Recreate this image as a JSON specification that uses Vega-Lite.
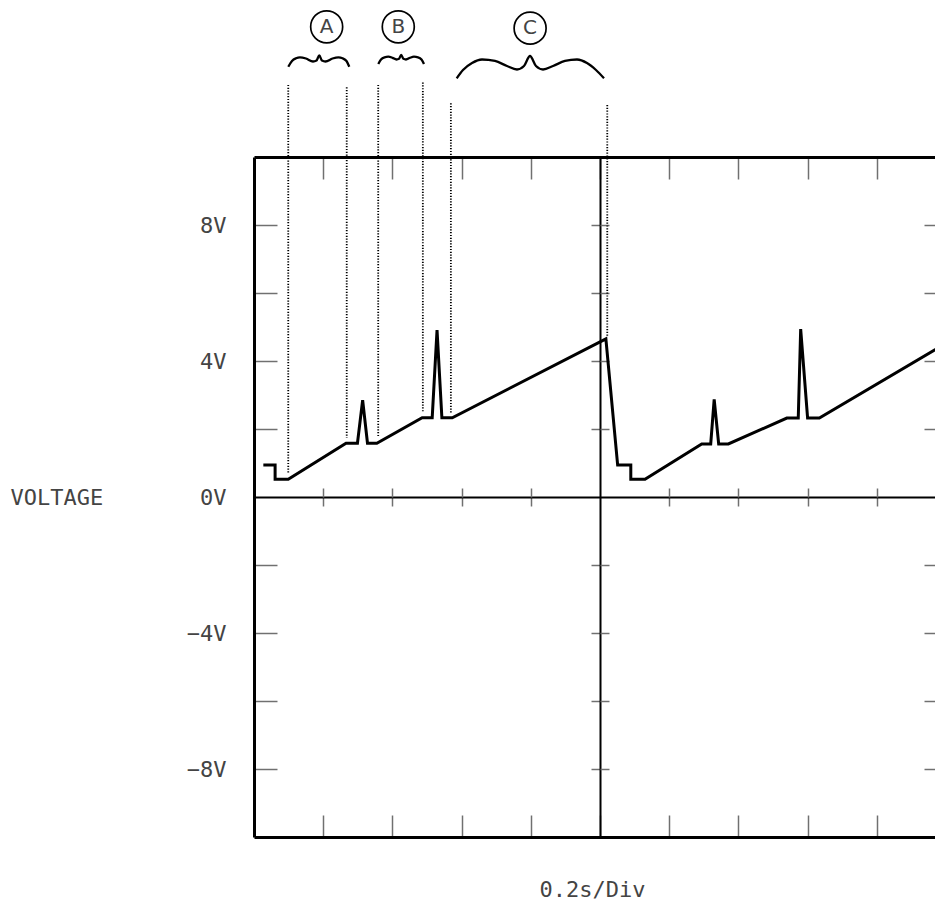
{
  "$schema": "https://vega.github.io/schema/vega-lite/v6.json",
  "width": 692,
  "height": 680,
  "autosize": {"type": "none"},
  "padding": {"left": 254, "top": 157, "right": -11, "bottom": 64},
  "background": "white",
  "config": {
    "view": {"stroke": null},
    "axis": {"grid": false, "labelFont": "DejaVu Sans Mono", "titleFont": "DejaVu Sans Mono", "labelColor": "#444", "titleColor": "#444", "titleFontWeight": "normal"}
  },
  "datasets": {
    "trace": [
      {"i": 0, "t": 0.027, "v": 0.94},
      {"i": 1, "t": 0.061, "v": 0.94},
      {"i": 2, "t": 0.061, "v": 0.52},
      {"i": 3, "t": 0.099, "v": 0.52},
      {"i": 4, "t": 0.266, "v": 1.58},
      {"i": 5, "t": 0.299, "v": 1.58},
      {"i": 6, "t": 0.314, "v": 2.85},
      {"i": 7, "t": 0.328, "v": 1.58},
      {"i": 8, "t": 0.355, "v": 1.58},
      {"i": 9, "t": 0.486, "v": 2.33},
      {"i": 10, "t": 0.515, "v": 2.33},
      {"i": 11, "t": 0.529, "v": 4.91},
      {"i": 12, "t": 0.543, "v": 2.33},
      {"i": 13, "t": 0.573, "v": 2.33},
      {"i": 14, "t": 1.017, "v": 4.65},
      {"i": 15, "t": 1.051, "v": 0.94},
      {"i": 16, "t": 1.089, "v": 0.94},
      {"i": 17, "t": 1.089, "v": 0.52},
      {"i": 18, "t": 1.130, "v": 0.52},
      {"i": 19, "t": 1.294, "v": 1.56},
      {"i": 20, "t": 1.320, "v": 1.56},
      {"i": 21, "t": 1.330, "v": 2.87},
      {"i": 22, "t": 1.343, "v": 1.56},
      {"i": 23, "t": 1.371, "v": 1.56},
      {"i": 24, "t": 1.540, "v": 2.32},
      {"i": 25, "t": 1.573, "v": 2.32},
      {"i": 26, "t": 1.580, "v": 4.94},
      {"i": 27, "t": 1.600, "v": 2.32},
      {"i": 28, "t": 1.634, "v": 2.32},
      {"i": 29, "t": 2.0, "v": 4.52}
    ],
    "dots": [
      {"t": 0.099, "top": 12.12, "bottom": 0.7},
      {"t": 0.268, "top": 12.05, "bottom": 1.74},
      {"t": 0.359, "top": 12.12, "bottom": 1.74},
      {"t": 0.488, "top": 12.19, "bottom": 2.47},
      {"t": 0.569, "top": 11.58, "bottom": 2.47},
      {"t": 1.021, "top": 11.53, "bottom": 4.71}
    ],
    "braces": [
      {"brace": "A", "t": 0.0991, "v": 12.656},
      {"brace": "A", "t": 0.1098, "v": 12.824},
      {"brace": "A", "t": 0.1214, "v": 12.903},
      {"brace": "A", "t": 0.1329, "v": 12.932},
      {"brace": "A", "t": 0.1503, "v": 12.897},
      {"brace": "A", "t": 0.1705, "v": 12.809},
      {"brace": "A", "t": 0.1806, "v": 12.838},
      {"brace": "A", "t": 0.1887, "v": 12.985},
      {"brace": "A", "t": 0.1965, "v": 12.838},
      {"brace": "A", "t": 0.2066, "v": 12.809},
      {"brace": "A", "t": 0.2269, "v": 12.897},
      {"brace": "A", "t": 0.2442, "v": 12.932},
      {"brace": "A", "t": 0.2558, "v": 12.903},
      {"brace": "A", "t": 0.2673, "v": 12.824},
      {"brace": "A", "t": 0.2754, "v": 12.656},
      {"brace": "B", "t": 0.3592, "v": 12.735},
      {"brace": "B", "t": 0.3671, "v": 12.868},
      {"brace": "B", "t": 0.3772, "v": 12.932},
      {"brace": "B", "t": 0.3882, "v": 12.950},
      {"brace": "B", "t": 0.4003, "v": 12.918},
      {"brace": "B", "t": 0.4118, "v": 12.868},
      {"brace": "B", "t": 0.4191, "v": 12.888},
      {"brace": "B", "t": 0.4254, "v": 13.000},
      {"brace": "B", "t": 0.4318, "v": 12.888},
      {"brace": "B", "t": 0.4393, "v": 12.868},
      {"brace": "B", "t": 0.4509, "v": 12.918},
      {"brace": "B", "t": 0.4624, "v": 12.950},
      {"brace": "B", "t": 0.4740, "v": 12.932},
      {"brace": "B", "t": 0.4841, "v": 12.868},
      {"brace": "B", "t": 0.4913, "v": 12.735},
      {"brace": "C", "t": 0.5858, "v": 12.315},
      {"brace": "C", "t": 0.6040, "v": 12.559},
      {"brace": "C", "t": 0.6301, "v": 12.765},
      {"brace": "C", "t": 0.6590, "v": 12.868},
      {"brace": "C", "t": 0.6965, "v": 12.824},
      {"brace": "C", "t": 0.7312, "v": 12.676},
      {"brace": "C", "t": 0.7601, "v": 12.574},
      {"brace": "C", "t": 0.7803, "v": 12.676},
      {"brace": "C", "t": 0.7977, "v": 12.971},
      {"brace": "C", "t": 0.8150, "v": 12.676},
      {"brace": "C", "t": 0.8353, "v": 12.574},
      {"brace": "C", "t": 0.8642, "v": 12.676},
      {"brace": "C", "t": 0.8988, "v": 12.824},
      {"brace": "C", "t": 0.9335, "v": 12.868},
      {"brace": "C", "t": 0.9624, "v": 12.765},
      {"brace": "C", "t": 0.9884, "v": 12.559},
      {"brace": "C", "t": 1.0116, "v": 12.315}
    ],
    "labels": [
      {"label": "A", "t": 0.210, "v": 13.83},
      {"label": "B", "t": 0.417, "v": 13.83},
      {"label": "C", "t": 0.798, "v": 13.79}
    ]
  },
  "resolve": {"axis": {"x": "independent", "y": "independent"}},
  "layer": [
    {
      "data": {"name": "trace"},
      "mark": {"type": "line", "color": "black", "strokeWidth": 3, "clip": true},
      "encoding": {
        "x": {"field": "t", "type": "quantitative", "scale": {"domain": [0, 2], "nice": false, "zero": false},
          "axis": {"orient": "bottom", "domainColor": "black", "domainWidth": 3, "values": [0.2, 0.4, 0.6, 0.8, 1.0, 1.2, 1.4, 1.6, 1.8], "tickSize": -22, "tickColor": "#707070", "tickWidth": 1.5, "labels": false, "title": null}},
        "y": {"field": "v", "type": "quantitative", "scale": {"domain": [-10, 10], "nice": false, "zero": false},
          "axis": {"orient": "left", "domainColor": "black", "domainWidth": 3, "values": [-8, -6, -4, -2, 2, 4, 6, 8], "tickSize": -23, "tickColor": "#707070", "tickWidth": 1.5, "labels": false, "title": null}},
        "order": {"field": "i", "type": "quantitative"}
      }
    },
    {
      "data": {"name": "dots"},
      "mark": {"type": "rule", "color": "black", "strokeWidth": 1.8, "strokeDash": [1.2, 1.6]},
      "encoding": {
        "x": {"field": "t", "type": "quantitative", "scale": {"domain": [0, 2], "nice": false, "zero": false},
          "axis": {"orient": "top", "domainColor": "black", "domainWidth": 3, "values": [0.2, 0.4, 0.6, 0.8, 1.0, 1.2, 1.4, 1.6, 1.8], "tickSize": -22, "tickColor": "#707070", "tickWidth": 1.5, "labels": false, "title": null}},
        "y": {"field": "top", "type": "quantitative", "scale": {"domain": [-10, 10], "nice": false, "zero": false},
          "axis": {"orient": "right", "domainColor": "black", "domainWidth": 3, "values": [-8, -6, -4, -2, 2, 4, 6, 8], "tickSize": -22, "tickColor": "#707070", "tickWidth": 1.5, "labels": false, "title": null}},
        "y2": {"field": "bottom"}
      }
    },
    {
      "data": {"name": "braces"},
      "mark": {"type": "line", "color": "black", "strokeWidth": 2.3, "interpolate": "monotone"},
      "encoding": {
        "x": {"field": "t", "type": "quantitative", "scale": {"domain": [0, 2], "nice": false, "zero": false},
          "axis": {"orient": "bottom", "offset": -340, "domainColor": "black", "domainWidth": 2, "values": [0.2, 0.4, 0.6, 0.8, 1.2, 1.4, 1.6, 1.8], "tickSize": 9, "tickColor": "#707070", "tickWidth": 1.5, "labels": false, "title": null}},
        "y": {"field": "v", "type": "quantitative", "scale": {"domain": [-10, 10], "nice": false, "zero": false},
          "axis": {"orient": "left", "offset": -346, "domainColor": "black", "domainWidth": 2, "values": [-8, -6, -4, -2, 2, 4, 6, 8], "tickSize": 9, "tickColor": "#707070", "tickWidth": 1.5, "labels": false, "title": null}},
        "detail": {"field": "brace", "type": "nominal"}
      }
    },
    {
      "data": {"name": "labels"},
      "mark": {"type": "point", "shape": "circle", "size": 1024, "filled": false, "stroke": "black", "strokeWidth": 1.7, "opacity": 1},
      "encoding": {
        "x": {"field": "t", "type": "quantitative", "scale": {"domain": [0, 2], "nice": false, "zero": false},
          "axis": {"orient": "top", "offset": -340, "domain": false, "values": [0.2, 0.4, 0.6, 0.8, 1.2, 1.4, 1.6, 1.8], "tickSize": 9, "tickColor": "#707070", "tickWidth": 1.5, "labels": false, "title": null}},
        "y": {"field": "v", "type": "quantitative", "scale": {"domain": [-10, 10], "nice": false, "zero": false},
          "axis": {"orient": "right", "offset": -346, "domain": false, "values": [-8, -6, -4, -2, 2, 4, 6, 8], "tickSize": 9, "tickColor": "#707070", "tickWidth": 1.5, "labels": false, "title": null}}
      }
    },
    {
      "data": {"name": "labels"},
      "mark": {"type": "text", "font": "DejaVu Sans", "fontSize": 20, "color": "#444", "align": "center", "baseline": "middle"},
      "encoding": {
        "x": {"field": "t", "type": "quantitative", "scale": {"domain": [0, 2], "nice": false, "zero": false},
          "axis": {"orient": "bottom", "domain": false, "ticks": false, "labels": false, "title": "0.2s/Div", "titleFontSize": 22, "titleX": 338, "titleY": 52, "titleAlign": "center", "titleBaseline": "middle"}},
        "y": {"field": "v", "type": "quantitative", "scale": {"domain": [-10, 10], "nice": false, "zero": false},
          "axis": {"orient": "left", "domain": false, "ticks": false, "values": [-8, -4, 0, 4, 8], "labelFontSize": 22, "labelPadding": 28, "labelExpr": "datum.value < 0 ? '\u2212' + abs(datum.value) + 'V' : datum.value + 'V'", "title": "VOLTAGE", "titleFontSize": 22, "titleAngle": 0, "titleX": -244, "titleY": 340, "titleAlign": "left", "titleBaseline": "middle"}},
        "text": {"field": "label", "type": "nominal"}
      }
    }
  ]
}
